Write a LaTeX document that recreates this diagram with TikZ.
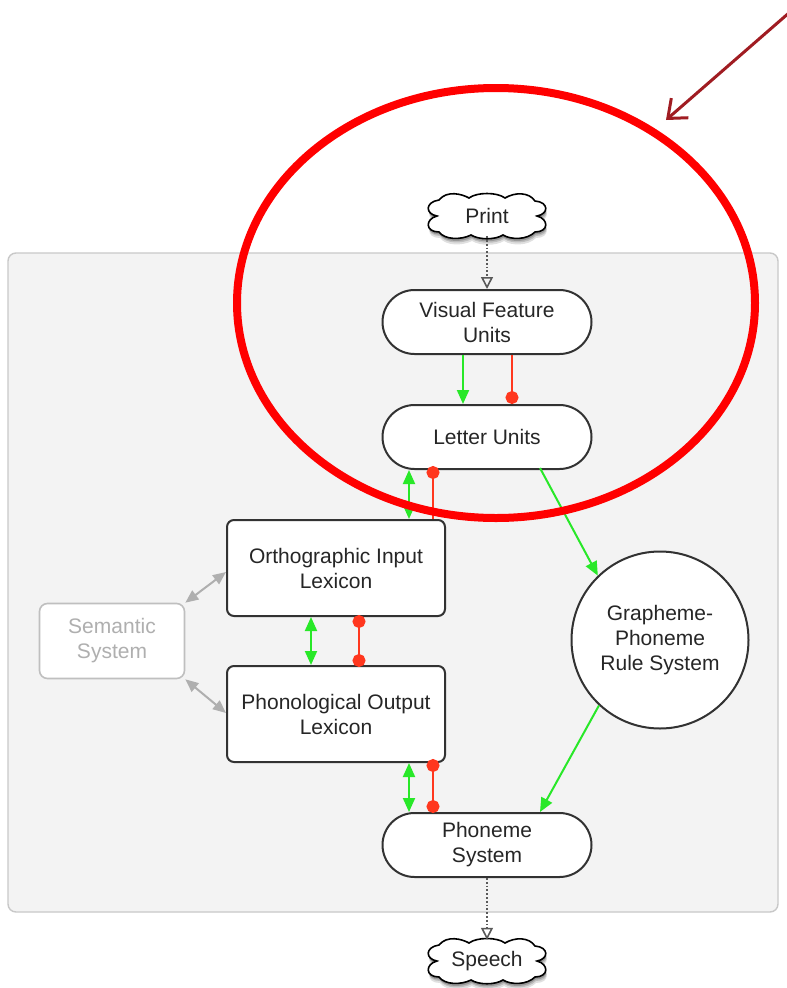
\documentclass[tikz,border=0pt]{standalone}
\usepackage{fontspec}
\setmainfont{Liberation Sans}
\usetikzlibrary{arrows.meta,shapes.geometric}
\definecolor{panelfill}{RGB}{243,243,243}
\definecolor{panelline}{RGB}{200,200,200}
\definecolor{lgreen}{RGB}{40,232,40}
\definecolor{lred}{RGB}{255,55,30}
\definecolor{semgray}{RGB}{175,175,175}
\definecolor{boxline}{RGB}{50,50,50}
\definecolor{darkarrow}{RGB}{160,28,34}
\definecolor{ringred}{RGB}{255,0,0}
\newcommand{\cloudoutline}{(-48,-16) .. controls (-40,-26) and (-25,-22) .. (-18,-18) .. controls (-10,-24) and (10,-24) .. (18,-18) .. controls (28,-24) and (42,-24) .. (48,-15) .. controls (62,-14) and (62,-2) .. (50,0) .. controls (62,3) and (62,16) .. (48,16) .. controls (40,24) and (24,24) .. (16,19) .. controls (8,24) and (-8,24) .. (-16,19) .. controls (-26,24) and (-42,24) .. (-48,16) .. controls (-62,16) and (-62,3) .. (-50,0) .. controls (-62,-2) and (-62,-14) .. (-48,-16) -- cycle}
\tikzset{
  txt/.style={font=\fontsize{21}{25}\selectfont, text=black!85, align=center},
  stadium/.style={txt, draw=boxline, line width=2pt, fill=white, rounded corners=32pt, minimum width=209pt, minimum height=64pt, inner sep=0pt},
  lexbox/.style={txt, draw=boxline, line width=2pt, fill=white, rounded corners=7pt, minimum width=218pt, minimum height=96pt, inner sep=0pt},
  sembox/.style={font=\fontsize{21}{25}\selectfont, align=center, text=semgray, draw=semgray!80, line width=1.6pt, fill=white, rounded corners=8pt, minimum width=145pt, minimum height=75pt, inner sep=0pt},
  gpcircle/.style={txt, circle, draw=boxline, line width=2pt, fill=white, minimum size=177pt, inner sep=0pt},
  cloudtext/.style={txt, minimum width=118pt, minimum height=46pt, inner sep=0pt},
  cloudshape/.pic={
    \fill[black, opacity=0.12] [shift={(1,6)}] \cloudoutline;
    \fill[black, opacity=0.15] [shift={(1,4)}] \cloudoutline;
    \fill[black, opacity=0.2] [shift={(0.5,2.5)}] \cloudoutline;
    \draw[black, line width=1.6pt, fill=white] \cloudoutline;
  },
  garrow/.style={draw=lgreen, line width=2pt, -{Triangle[length=14pt,width=12pt]}},
  gdouble/.style={draw=lgreen, line width=2pt, {Triangle[length=14pt,width=12pt]}-{Triangle[length=14pt,width=12pt]}},
  rline/.style={draw=lred, line width=2pt},
  semarrow/.style={draw=semgray, line width=2pt, {Triangle[length=13pt,width=11pt]}-{Triangle[length=13pt,width=11pt]}},
  dotarrow/.style={draw=black!65, line width=1.8pt, dotted, -{Triangle[open,length=12pt,width=12pt,line width=1.6pt]}}
}
\begin{document}
\begin{tikzpicture}[x=1pt,y=-1pt]
\useasboundingbox (0,0) rectangle (787,988);
\fill[white] (0,0) rectangle (787,988);
% panel
\draw[fill=panelfill, draw=panelline, line width=1.4pt, rounded corners=8pt] (8,253) rectangle (778,912);

% clouds
\pic at (487,216) {cloudshape};
\pic at (487,961) {cloudshape};

% nodes
\node[cloudtext] (print) at (487,216) {Print};
\node[stadium] (vfu) at (487,322) {Visual Feature\\Units};
\node[stadium] (lu) at (487,437) {Letter Units};
\node[lexbox] (oil) at (336,568) {Orthographic Input\\Lexicon};
\node[lexbox] (pol) at (336,714) {Phonological Output\\Lexicon};
\node[sembox] (sem) at (112,641) {Semantic\\System};
\node[gpcircle] (gp) at (660,640) {Grapheme-\\Phoneme\\Rule System};
\node[stadium] (ps) at (487,845) {Phoneme\\System};
\node[cloudtext] (speech) at (487,961) {Speech};

% dotted arrows
\draw[dotarrow] ([yshift=3pt]print.south) -- (vfu.north);
\draw[dotarrow] (ps.south) -- ([yshift=-2pt]speech.north);

% VFU -> LU
\draw[garrow] (vfu.south -| 463,0) -- (lu.north -| 463,0);
\draw[rline, -{Circle[length=13pt]}] (vfu.south -| 512,0) -- (lu.north -| 512,0);

% LU <-> OIL
\draw[gdouble] (lu.south -| 409,0) -- (oil.north -| 409,0);
\draw[rline, {Circle[length=13pt]}-] ([yshift=4pt]lu.south -| 433,0) -- (oil.north -| 433,0);

% OIL <-> POL
\draw[gdouble] (oil.south -| 311,0) -- (pol.north -| 311,0);
\draw[rline, {Circle[length=13pt]}-{Circle[length=13pt]}] ([yshift=2pt]oil.south -| 359,0) -- ([yshift=-2pt]pol.north -| 359,0);

% POL <-> PS
\draw[gdouble] (pol.south -| 409,0) -- (ps.north -| 409,0);
\draw[rline, {Circle[length=13pt]}-{Circle[length=13pt]}] ([yshift=4pt]pol.south -| 433,0) -- ([yshift=-1pt]ps.north -| 433,0);

% semantic links
\draw[semarrow] (sem.north east) -- (oil.west |- 0,572);
\draw[semarrow] (sem.south east) -- (pol.west |- 0,713);

% GPC route
\coordinate (luout) at (540,468);
\draw[garrow] (luout) -- (gp.134);
\coordinate (psin) at (540,812);
\draw[garrow] (gp.227) -- (psin);

% red ring and pointer
\draw[ringred, line width=8pt] (496,303) ellipse [x radius=259, y radius=215];
\coordinate (ptrS) at (790,12);
\coordinate (ptrE) at (666,120);
\draw[darkarrow, line width=3pt, line cap=round, -{Straight Barb[length=16pt,width=26pt,line width=3pt]}] (ptrS) -- (ptrE);
\end{tikzpicture}
\end{document}
